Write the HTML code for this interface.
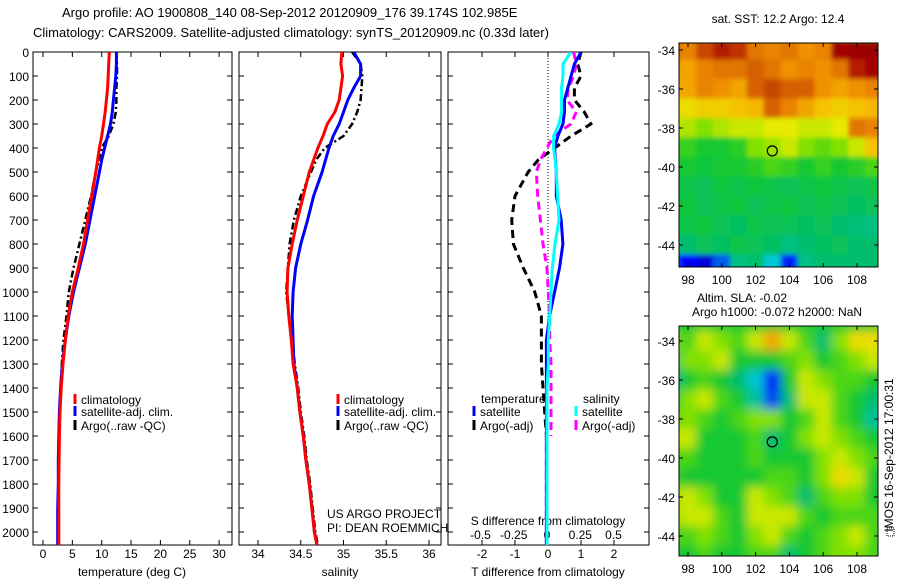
<!DOCTYPE html>
<html><head><meta charset="utf-8"><style>
html,body{margin:0;padding:0;background:#fff;}
svg{display:block;font-family:"Liberation Sans",Arial,sans-serif;}
</style></head><body>
<svg id="fig" width="900" height="580" viewBox="0 0 900 580" xmlns="http://www.w3.org/2000/svg">
<defs>
<clipPath id="c1"><rect x="33" y="52" width="199" height="493"/></clipPath>
<clipPath id="c2"><rect x="239" y="52" width="202" height="493"/></clipPath>
<clipPath id="c3"><rect x="448" y="52" width="201" height="493"/></clipPath>
<clipPath id="cm1"><rect x="679" y="43" width="199" height="224"/></clipPath>
<clipPath id="cm2"><rect x="679" y="326" width="199" height="230"/></clipPath>
<filter id="blur" x="-5%" y="-5%" width="110%" height="110%"><feGaussianBlur stdDeviation="5"/></filter>
<filter id="blur2" x="-5%" y="-5%" width="110%" height="110%"><feGaussianBlur stdDeviation="2.5"/></filter>
</defs>
<g id="root"></g>
</svg>
<script>
// ---------- data ----------
const depths = [0,50,100,150,200,250,300,350,400,450,500,600,700,800,900,1000,1100,1200,1300,1400,1500,1600,1700,1800,1900,2000,2054];
const tempClim = [11.3,11.2,11.1,11.0,10.8,10.6,10.3,10.0,9.6,9.3,9.0,8.3,7.6,6.9,6.0,5.0,4.3,3.8,3.4,3.1,2.9,2.8,2.75,2.7,2.7,2.7,2.7];
const tempSat  = [12.5,12.5,12.4,12.2,12.0,11.8,11.5,11.0,10.5,10.0,9.6,8.8,8.0,7.2,6.2,5.2,4.4,3.8,3.3,3.0,2.8,2.7,2.6,2.6,2.5,2.5,2.5];
const tempArgo = [12.5,12.6,12.6,12.5,12.5,12.4,12.0,11.2,10.0,9.5,9.0,8.2,7.2,6.2,5.2,4.4,4.0,3.5,3.2,3.0,2.8,2.7,2.6,2.6,2.5,2.5,2.5];
const salClim  = [34.98,34.97,34.99,34.97,34.95,34.9,34.81,34.76,34.70,34.65,34.6,34.53,34.46,34.40,34.35,34.34,34.36,34.39,34.41,34.46,34.49,34.53,34.56,34.60,34.63,34.66,34.69];
const salSat   = [35.12,35.2,35.2,35.12,35.05,35.0,34.95,34.88,34.83,34.79,34.75,34.65,34.58,34.5,34.44,34.41,34.40,34.41,34.42,34.46,34.49,34.53,34.56,34.60,34.63,34.66,34.69];
const salArgo  = [35.1,35.2,35.22,35.21,35.2,35.16,35.1,35.0,34.78,34.68,34.62,34.5,34.42,34.37,34.35,34.33,34.36,34.4,34.43,34.47,34.5,34.54,34.57,34.61,34.64,34.67,34.7];
const dTSat  = [1.0,0.8,0.7,0.6,0.5,0.5,0.45,0.3,0.2,0.22,0.25,0.25,0.4,0.45,0.35,0.2,0.05,-0.05,-0.05,-0.05,-0.05,-0.05,-0.05,-0.05,-0.05,-0.05,-0.05];
const dTArgo = [1.0,0.9,1.0,0.8,0.8,1.1,1.3,0.7,0.2,-0.3,-0.6,-1.0,-1.1,-1.05,-0.75,-0.4,-0.2,-0.2,-0.2,-0.15,-0.1,-0.05,-0.05,-0.05,-0.05,-0.05,-0.05];
const dSSat  = [0.18,0.12,0.12,0.11,0.11,0.11,0.09,0.05,0.05,0.06,0.07,0.08,0.09,0.06,0.04,0.03,0.02,0.01,0.01,0.0,0.0,0.0,0.0,0.0,0.0,0.0,0.0];
const dSArgo = [0.2,0.22,0.2,0.16,0.15,0.22,0.18,0.05,0.0,-0.05,-0.08,-0.07,-0.05,-0.03,0.0,0.01,0.02,0.02,0.03,0.03,0.03,0.03,null,null,null,null,null];
const depthTicks = [0,100,200,300,400,500,600,700,800,900,1000,1100,1200,1300,1400,1500,1600,1700,1800,1900,2000];
const tempTicks = [0,5,10,15,20,25,30];
const salTicks = ['34','34.5','35','35.5','36'];
const dTTicks = ['-2','-1','0','1','2'];
const dSTicks = ['-0.5','-0.25','0','0.25','0.5'];
const lonTicks = [98,100,102,104,106,108];
const latTicks = [-34,-36,-38,-40,-42,-44];
const mapLons = [97,98,99,100,101,102,103,104,105,106,107,108,109];
const mapLats = [-34,-35,-36,-37,-38,-39,-40,-41,-42,-43,-44,-45];
const sstGrid = [
[.85,.8,.88,.92,.9,.82,.8,.82,.78,.8,.95,.97,.97],
[.78,.75,.8,.82,.82,.85,.82,.78,.8,.78,.82,.92,.95],
[.72,.75,.8,.78,.75,.85,.88,.85,.85,.78,.75,.78,.8],
[.65,.65,.68,.68,.7,.72,.85,.8,.75,.7,.68,.7,.72],
[.6,.58,.55,.58,.6,.6,.62,.62,.6,.6,.62,.82,.8],
[.5,.48,.45,.45,.47,.55,.57,.6,.55,.52,.55,.6,.7],
[.45,.45,.44,.45,.45,.47,.5,.48,.45,.48,.45,.47,.5],
[.44,.43,.42,.44,.43,.44,.43,.42,.43,.44,.43,.42,.43],
[.43,.44,.42,.43,.44,.42,.43,.44,.42,.43,.42,.41,.42],
[.42,.43,.44,.42,.41,.43,.42,.42,.41,.42,.4,.39,.38],
[.36,.4,.42,.41,.43,.42,.41,.38,.4,.41,.42,.4,.4],
[.22,.15,.1,.22,.38,.4,.3,.18,.38,.4,.4,.4,.4]];
const slaGrid = [
[.55,.5,.6,.55,.5,.6,.75,.6,.5,.4,.55,.65,.65],
[.4,.55,.55,.6,.45,.45,.45,.5,.55,.45,.5,.55,.6],
[.35,.45,.5,.45,.4,.3,.15,.45,.6,.55,.5,.5,.45],
[.45,.55,.6,.5,.45,.35,.2,.4,.6,.6,.5,.45,.4],
[.5,.55,.5,.45,.5,.55,.55,.45,.5,.6,.5,.45,.35],
[.6,.6,.45,.45,.45,.5,.4,.45,.55,.6,.55,.5,.45],
[.5,.5,.45,.45,.45,.5,.45,.45,.45,.55,.6,.55,.5],
[.5,.45,.45,.45,.45,.45,.5,.5,.45,.55,.65,.6,.45],
[.55,.6,.55,.45,.45,.6,.55,.5,.4,.5,.55,.55,.45],
[.55,.6,.6,.5,.45,.6,.6,.6,.5,.45,.5,.5,.5],
[.5,.5,.55,.5,.45,.55,.6,.5,.45,.5,.55,.6,.5],
[.45,.45,.5,.45,.45,.5,.5,.4,.45,.5,.55,.55,.5]];
const argoLon = 102.985, argoLat = -39.174;

// ---------- helpers ----------
const NS='http://www.w3.org/2000/svg';
const root=document.getElementById('root');
function mk(tag,attrs,parent){const e=document.createElementNS(NS,tag);for(const k in attrs)e.setAttribute(k,attrs[k]);(parent||root).appendChild(e);return e;}
function txt(x,y,s,anchor,size,parent){const t=mk('text',{x:x,y:y,'font-size':size||12,'text-anchor':anchor||'start',fill:'#000'},parent);t.textContent=s;return t;}
const yD = d => 52 + d*0.24;
const xT = v => 43 + v*5.87;
const xS = v => 258 + (v-34)*85.5;
const xDT = v => 548 + v*33;
const xDS = v => 547 + v*133;

function frame(x0,x1,name){
  const r=mk('rect',{x:x0,y:52,width:x1-x0,height:493,fill:'none',stroke:'#000','stroke-width':1});
  
  
  depthTicks.forEach(d=>{const y=yD(d);mk('line',{x1:x0,y1:y,x2:x0+5,y2:y,stroke:'#000'});mk('line',{x1:x1,y1:y,x2:x1-5,y2:y,stroke:'#000'});});
}
function xticks(vals,fx,x0,x1,ly,name,labels){
  const g=mk('g',{});
  
  
  vals.forEach((v,i)=>{const x=fx(+v);mk('line',{x1:x,y1:545,x2:x,y2:540,stroke:'#000'},g);mk('line',{x1:x,y1:52,x2:x,y2:57,stroke:'#000'},g);txt(x,ly,labels?labels[i]:String(v),'middle',12,g);});
}
function series(vals,fx,color,dash,name,clip,w){
  let pts=[];
  vals.forEach((v,i)=>{if(v!==null)pts.push(fx(v).toFixed(1)+','+yD(depths[i]).toFixed(1));});
  const a={points:pts.join(' '),fill:'none',stroke:color,'stroke-width':w||3,'clip-path':'url(#'+clip+')'};
  if(dash)a['stroke-dasharray']=dash;
  const p=mk('polyline',a);
  
  
}
function legendItem(x,y,color,label,name){
  const g=mk('g',{});
  
  
  mk('line',{x1:x,y1:y-10,x2:x,y2:y,stroke:color,'stroke-width':3},g);
  txt(x+6,y,label,'start',12,g);
}

// ---------- title ----------
const t1=txt(62,17,'Argo profile: AO 1900808_140 08-Sep-2012 20120909_176 39.174S 102.985E','start',13);


const t2=txt(33,37,'Climatology: CARS2009. Satellite-adjusted climatology: synTS_20120909.nc (0.33d later)','start',13);



// ---------- panel 1 temperature ----------
frame(33,232,'temperature-axes');
depthTicks.forEach(d=>{const t=txt(29,yD(d)+5,String(d),'end',12);});
xticks(tempTicks,xT,33,232,558,'temperature-x-ticks');
const xl1=txt(132,576,'temperature (deg C)','middle',12);


series(tempArgo,xT,'#000','7,3,2,3','temp-argo-line','c1',2.5);
series(tempSat,xT,'#0000ff',null,'temp-satellite-line','c1');
series(tempClim,xT,'#ff0000',null,'temp-climatology-line','c1');
legendItem(75,404,'#ff0000','climatology','legend-climatology');
legendItem(75,416,'#0000ff','satellite-adj. clim.','legend-satellite');
legendItem(75,430,'#000','Argo(..raw -QC)','legend-argo');

// ---------- panel 2 salinity ----------
frame(239,441,'salinity-axes');
xticks(salTicks,xS,239,441,558,'salinity-x-ticks');
const xl2=txt(340,576,'salinity','middle',12);


series(salArgo,xS,'#000','7,3,2,3','sal-argo-line','c2',2.5);
series(salSat,xS,'#0000ff',null,'sal-satellite-line','c2');
series(salClim,xS,'#ff0000',null,'sal-climatology-line','c2');
legendItem(338,404,'#ff0000','climatology','legend-climatology-2');
legendItem(338,416,'#0000ff','satellite-adj. clim.','legend-satellite-2');
legendItem(338,430,'#000','Argo(..raw -QC)','legend-argo-2');
const pr1=txt(327,518,'US ARGO PROJECT','start',12);


const pr2=txt(327,532,'PI: DEAN ROEMMICH','start',12);



// ---------- panel 3 differences ----------
frame(448,649,'difference-axes');
xticks(dTTicks,xDT,448,649,558,'t-difference-ticks');
const zl=mk('line',{x1:548,y1:52,x2:548,y2:545,stroke:'#000','stroke-dasharray':'1,2','stroke-width':1});


const sg=mk('g',{});


dSTicks.forEach(v=>txt(xDS(+v),539,v,'middle',12,sg));
const sl=txt(548,525,'S difference from climatology','middle',12);


const tl=txt(548,576,'T difference from climatology','middle',12);


series(dTArgo,xDT,'#000','8,5','dt-argo-line','c3');
series(dSArgo,xDS,'#ff00ff','8,5','ds-argo-line','c3');
series(dTSat,xDT,'#0000ff',null,'dt-satellite-line','c3');
series(dSSat,xDS,'#00ffff',null,'ds-satellite-line','c3');
const lh1=txt(481,403,'temperature','start',12);


const lh2=txt(583,403,'salinity','start',12);


legendItem(474,416,'#0000ff','satellite','legend-t-satellite');
legendItem(474,430,'#000','Argo(-adj)','legend-t-argo');
legendItem(576,416,'#00ffff','satellite','legend-s-satellite');
legendItem(576,430,'#ff00ff','Argo(-adj)','legend-s-argo');

// ---------- maps ----------
const cmStops=[[0,[0,0,140]],[.15,[0,0,255]],[.3,[0,200,210]],[.4,[0,190,110]],[.45,[20,200,50]],[.55,[130,225,0]],[.62,[230,235,0]],[.7,[245,195,0]],[.78,[240,145,0]],[.86,[210,90,0]],[.95,[165,0,0]],[1,[140,0,0]]];
function cmap(v){for(let i=1;i<cmStops.length;i++){if(v<=cmStops[i][0]){const [a,ca]=cmStops[i-1],[b,cb]=cmStops[i];const f=(v-a)/(b-a);return 'rgb('+ca.map((c,k)=>Math.round(c+(cb[k]-c)*f)).join(',')+')';}}return 'rgb(140,0,0)';}
function drawMap(grid,x0,y0,w,h,lat0y,clip,filt,name,circleName){
  const xL = lon => 688 + (lon-98)*16.9;
  const yL = lat => lat0y + (-34-lat)*19.5;
  const g=mk('g',{'clip-path':'url(#'+clip+')'});
  
  
  const inner=mk('g',{filter:'url(#'+filt+')'},g);
  mk('rect',{x:x0-10,y:y0-10,width:w+20,height:h+20,fill:cmap(0.45)},inner);
  grid.forEach((row,r)=>row.forEach((v,c)=>{
    const cell=mk('rect',{x:xL(mapLons[c]-0.5)-0.3,y:yL(mapLats[r]+0.5)-0.3,width:16.9+0.6,height:19.5+0.6,fill:cmap(v)},inner);
    
    
  }));
  const fr=mk('rect',{x:x0,y:y0,width:w,height:h,fill:'none',stroke:'#000'});
  
  
  lonTicks.forEach(l=>{const x=xL(l);mk('line',{x1:x,y1:y0+h,x2:x,y2:y0+h-4,stroke:'#000'});mk('line',{x1:x,y1:y0,x2:x,y2:y0+4,stroke:'#000'});txt(x,y0+h+17,String(l),'middle',12);});
  latTicks.forEach(l=>{const y=yL(l);mk('line',{x1:x0,y1:y,x2:x0+4,y2:y,stroke:'#000'});mk('line',{x1:x0+w,y1:y,x2:x0+w-4,y2:y,stroke:'#000'});txt(x0-4,y+5,String(l),'end',12);});
  const ci=mk('ellipse',{cx:xL(argoLon),cy:yL(argoLat),rx:5,ry:5,fill:'none',stroke:'#000','stroke-width':1.2});
  
  
}
drawMap(sstGrid,679,43,199,224,50,'cm1','blur2','sst-map','argo-location-marker');
drawMap(slaGrid,679,326,199,230,341,'cm2','blur','sla-map','argo-location-marker-2');
const m1=txt(778,23,'sat. SST: 12.2 Argo: 12.4','middle',12);


const m2=txt(742,302,'Altim. SLA: -0.02','middle',12);


const m3=txt(777,316,'Argo h1000: -0.072 h2000: NaN','middle',12);


const im=txt(0,0,'IMOS 16-Sep-2012 17:00:31','middle',12);
im.setAttribute('transform','translate(893,455) rotate(-90)');


const box=mk('rect',{x:887,y:528,width:7,height:8,fill:'none',stroke:'#000','stroke-dasharray':'1,1'});


</script>
</body></html>
